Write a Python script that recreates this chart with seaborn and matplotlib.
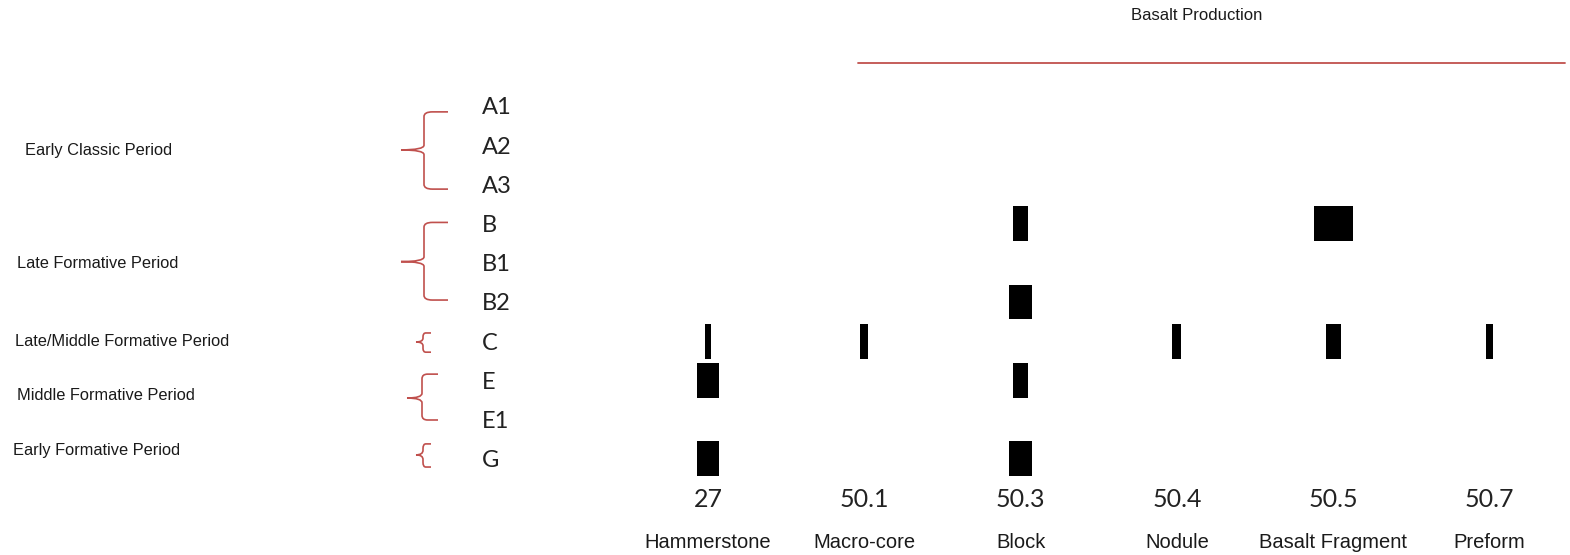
import numpy as np
import matplotlib
matplotlib.use('Agg')
import matplotlib.pyplot as plt
import matplotlib.transforms as mtransforms
from matplotlib.path import Path
from matplotlib.patches import PathPatch
from matplotlib.lines import Line2D
import seaborn as sns

# Data: counts of basalt production items per level (bar width ~ count)
levels = ['A1', 'A2', 'A3', 'B', 'B1', 'B2', 'C', 'E', 'E1', 'G']
item_codes = ['27', '50.1', '50.3', '50.4', '50.5', '50.7']
item_names = ['Hammerstone', 'Macro-core', 'Block', 'Nodule', 'Basalt Fragment', 'Preform']

hammerstone = [0, 0, 0, 0, 0, 0, 4.5, 15, 0, 15]
macro_core = [0, 0, 0, 0, 0, 0, 5.3, 0, 0, 0]
block = [0, 0, 0, 9.8, 0, 15, 0, 9.8, 0, 15]
nodule = [0, 0, 0, 0, 0, 0, 5.8, 0, 0, 0]
basalt_fragment = [0, 0, 0, 26, 0, 0, 10, 0, 0, 0]
preform = [0, 0, 0, 0, 0, 0, 4.5, 0, 0, 0]

periods = ['Early Classic Period', 'Late Formative Period', 'Late/Middle Formative Period',
           'Middle Formative Period', 'Early Formative Period']
# brace extent (top, middle, bottom) in level-row units
brace_rows = [(0.15, 1.12, 2.12), (2.97, 3.97, 4.95), (5.79, 6.02, 6.28),
              (6.84, 7.45, 8.01), (8.62, 8.9, 9.21)]

RED = '#c0504d'
W, H = 1570, 555

sns.set_style('white')
plt.rcParams['font.family'] = ['Liberation Sans', 'DejaVu Sans']

fig = plt.figure(figsize=(W / 100, H / 100), dpi=100)
ax = fig.add_axes([629.9 / W, (H - 478.4) / H, 937.6 / W, 392 / H])

series = [hammerstone, macro_core, block, nodule, basalt_fragment, preform]
unit = 1.5 / 156.26  # width of one count in column units
bar_h = 0.89
for ci, vals in enumerate(series):
    vals = np.asarray(vals, dtype=float)
    rows = np.nonzero(vals)[0]
    ax.bar(np.full(len(rows), ci), np.full(len(rows), bar_h), width=vals[rows] * unit,
           bottom=rows - bar_h / 2, color='black', edgecolor='none')

ax.set_xlim(-0.5, len(item_codes) - 0.5)
ax.set_ylim(len(levels) - 0.5, -0.5)
for s in ax.spines.values():
    s.set_visible(False)

ax.set_xticks(range(len(item_codes)))
ax.set_xticklabels(item_codes, family=['Lato', 'DejaVu Sans'], fontsize=18, color='#222222')
ax.tick_params(axis='x', length=0, pad=7)
ax.set_yticks(range(len(levels)))
ax.set_yticklabels(levels, family=['Lato', 'DejaVu Sans'], fontsize=17, color='#222222',
                   ha='left')
ax.tick_params(axis='y', length=0, pad=(629.9 - 482) * 0.72)

# item names under the codes
name_tr = mtransforms.blended_transform_factory(ax.transData, fig.transFigure)
for ci, name in enumerate(item_names):
    ax.text(ci, 1 - 543 / H, name, transform=name_tr, ha='center', va='center',
            fontsize=14.5, color='#1a1a1a')

# title and red rule
fig.text(1197 / W, 1 - 16 / H, 'Basalt Production', ha='center', va='center',
         fontsize=12, color='#1a1a1a')
fig.add_artist(Line2D([858 / W, 1565 / W], [1 - 63 / H, 1 - 63 / H],
                      transform=fig.transFigure, color=RED, lw=1.3))

# period labels and braces
brace_tr = mtransforms.blended_transform_factory(fig.transFigure, ax.transData)
label_x = [25, 17, 15, 17, 13]
label_y = [150, 263, 341, 395, 450]
brace_x = [(401, 424, 448), (401, 424, 448), (416, 423, 431), (407, 422, 438), (416, 423, 431)]


def brace(top, mid, bot, xs):
    tip, spine, arm = [v / W for v in xs]
    r = min(0.12, (bot - top) / 5)
    c = (arm - spine) * 0.35
    verts = [(arm, top), (spine + c, top), (spine, top), (spine, top + r),
             (spine, mid - r), (spine, mid), (tip, mid),
             (spine, mid), (spine, mid + r),
             (spine, bot - r), (spine, bot), (spine + c, bot), (arm, bot)]
    codes = [Path.MOVETO, Path.LINETO, Path.CURVE3, Path.CURVE3,
             Path.LINETO, Path.CURVE3, Path.CURVE3,
             Path.CURVE3, Path.CURVE3,
             Path.LINETO, Path.CURVE3, Path.CURVE3, Path.LINETO]
    ax.add_patch(PathPatch(Path(verts, codes), transform=brace_tr, fill=False,
                           edgecolor=RED, lw=1.2, clip_on=False))


for i, name in enumerate(periods):
    top, mid, bot = brace_rows[i]
    brace(top, mid, bot, brace_x[i])
    fig.text(label_x[i] / W, 1 - label_y[i] / H, name, ha='left', va='center',
             fontsize=11.8, color='#1a1a1a')

fig.savefig('out.png', dpi=100, facecolor='white')
